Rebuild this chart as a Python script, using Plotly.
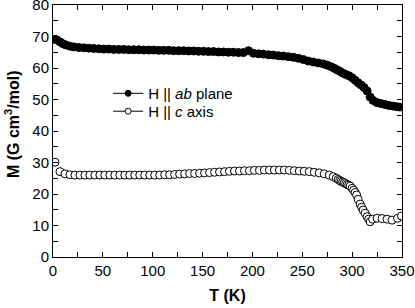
import plotly.graph_objects as go

# H || ab plane (filled circles)
T_ab = [2, 4, 7, 10, 13, 17, 21, 26, 31, 36, 41, 46, 51, 56, 61, 66, 71, 76, 81, 86,
        91, 96, 101, 106, 111, 116, 121, 126, 131, 136, 141, 146, 151, 156, 161, 166,
        171, 176, 181, 186, 191, 196, 201, 206, 211, 216, 221, 226, 231, 236, 241, 246,
        251, 256, 261, 266, 271, 275, 279, 282, 285, 288, 291, 294, 297, 300, 303, 306,
        309, 312, 315, 318, 321, 325, 329, 333, 337, 341, 345, 348]
M_ab = [69.1, 68.9, 68.3, 67.7, 67.3, 66.9, 66.7, 66.5, 66.4, 66.3, 66.2, 66.1, 66.0, 66.0,
        65.9, 65.9, 65.9, 65.8, 65.8, 65.8, 65.7, 65.7, 65.7, 65.6, 65.6, 65.6, 65.5, 65.5,
        65.5, 65.4, 65.4, 65.3, 65.3, 65.2, 65.2, 65.1, 65.1, 65.0, 65.0, 64.9, 64.9, 65.5,
        64.7, 64.5, 64.4, 64.2, 64.1, 63.9, 63.8, 63.6, 63.4, 63.1, 62.7, 62.2, 61.9, 61.6,
        61.3, 60.9, 60.4, 59.9, 59.4, 58.9, 58.3, 57.9, 57.5, 56.9, 56.1, 55.3, 54.6, 53.8,
        52.7, 50.8, 49.7, 49.0, 48.7, 48.4, 48.1, 47.9, 47.7, 47.6]

# H || c axis (open circles)
T_c = [2, 7, 12, 17, 22, 27, 32, 37, 42, 47, 52, 57, 62, 67, 72, 77, 82, 87, 92, 97, 102,
       107, 112, 117, 122, 127, 132, 137, 142, 147, 152, 157, 162, 167, 172, 177, 182, 187,
       192, 197, 202, 207, 212, 217, 222, 227, 232, 237, 242, 247, 252, 257, 262, 267, 272,
       277, 281, 284, 286, 287.5, 289, 290.5, 292, 293.5, 295, 296.5, 298, 300, 301.5, 303,
       304.5, 306, 308, 309.5, 311, 313, 315, 316.5, 318, 320.5, 325, 330, 335, 340, 345.5,
       349.5]
M_c = [30.1, 27.1, 26.4, 26.1, 26.0, 26.0, 26.0, 26.0, 26.0, 26.0, 26.0, 26.0, 26.0, 26.0,
       26.0, 26.0, 26.0, 26.0, 26.0, 26.0, 26.0, 26.0, 26.1, 26.1, 26.2, 26.3, 26.4, 26.5,
       26.5, 26.6, 26.7, 26.8, 26.9, 27.0, 27.1, 27.2, 27.3, 27.3, 27.4, 27.4, 27.5, 27.5,
       27.6, 27.6, 27.6, 27.6, 27.6, 27.5, 27.4, 27.3, 27.2, 27.1, 26.9, 26.7, 26.4, 26.0,
       25.5, 25.0, 24.6, 24.3, 24.0, 23.8, 23.6, 23.3, 23.0, 22.8, 22.5, 21.8, 21.2, 20.5,
       19.7, 18.3, 16.8, 15.8, 14.9, 13.9, 12.8, 12.0, 11.2, 12.0, 12.3, 12.2, 12.0, 11.7,
       12.3, 13.0]

SERIES_NAMES = ["H || <i>ab</i> plane", "H || <i>c</i> axis"]
X_TICKS = [0, 50, 100, 150, 200, 250, 300, 350]
Y_TICKS = [0, 10, 20, 30, 40, 50, 60, 70, 80]
X_TITLE = "<b>T (K)</b>"
Y_TITLE = "<b>M (G cm<sup>3</sup>/mol)</b>"

FONT = "Arial, Liberation Sans, Helvetica, sans-serif"

fig = go.Figure()
# data traces
fig.add_trace(go.Scatter(
    x=T_ab, y=M_ab, mode="markers", showlegend=False,
    marker=dict(symbol="circle", size=8, color="black", line=dict(color="black", width=1)),
))
fig.add_trace(go.Scatter(
    x=T_c, y=M_c, mode="markers", showlegend=False,
    marker=dict(symbol="circle", size=8, color="white", line=dict(color="black", width=1)),
))
# legend-only entries (line + marker symbol), one legend box each
for name, fill, lg in zip(SERIES_NAMES, ["black", "white"], ["legend", "legend2"]):
    fig.add_trace(go.Scatter(
        x=[None], y=[None], mode="lines+markers", name=name, legend=lg,
        line=dict(color="black", width=1),
        marker=dict(symbol="circle", size=6, color=fill, line=dict(color="black", width=1)),
    ))

axis_common = dict(
    showline=True, linecolor="black", linewidth=1, mirror="ticks",
    ticks="inside", ticklen=5, tickwidth=1, tickcolor="black",
    showgrid=False, zeroline=False, ticklabeloverflow="allow",
    tickfont=dict(family=FONT, size=15, color="black"),
)

fig.update_xaxes(
    range=[0, 350], tickvals=X_TICKS,
    minor=dict(dtick=25, tick0=0, ticks="inside", ticklen=5, tickcolor="black", showgrid=False),
    title=dict(text=X_TITLE, font=dict(family=FONT, size=16, color="black"), standoff=11),
    **axis_common,
)
fig.update_yaxes(
    range=[0, 80], tickvals=Y_TICKS,
    minor=dict(dtick=5, tick0=0, ticks="inside", ticklen=5, tickcolor="black", showgrid=False),
    **axis_common,
)

fig.add_annotation(
    text=Y_TITLE, xref="paper", yref="paper", x=-0.117, y=0.528,
    xanchor="center", yanchor="middle", textangle=-90, showarrow=False,
    font=dict(family=FONT, size=16, color="black"),
)

legend_common = dict(
    xanchor="left", yanchor="top", bgcolor="rgba(0,0,0,0)", borderwidth=0,
    font=dict(family=FONT, size=15, color="black"),
)
fig.update_layout(
    width=415, height=308,
    margin=dict(l=53, r=13, t=5, b=51, autoexpand=False),
    plot_bgcolor="white", paper_bgcolor="white",
    font=dict(family=FONT, size=15, color="black"),
    showlegend=True,
    legend=dict(x=0.158, y=0.714, **legend_common),
    legend2=dict(x=0.158, y=0.643, **legend_common),
)

fig.write_html("out.html", config={"displayModeBar": False},
               post_script="document.body.style.margin='0px';")
